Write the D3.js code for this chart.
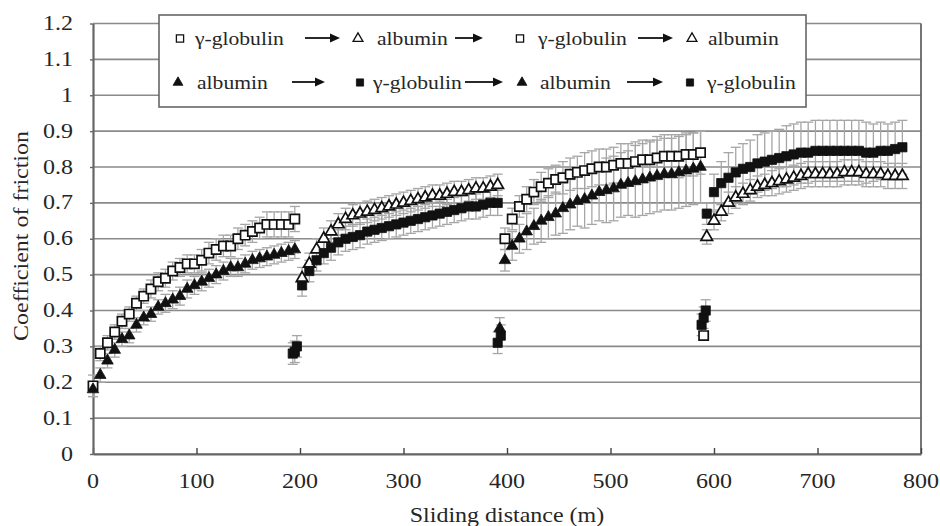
<!DOCTYPE html>
<html><head><meta charset="utf-8">
<script src="https://cdn.jsdelivr.net/npm/d3@7"></script>
<style>
html,body{margin:0;padding:0;background:#fff;}
svg{display:block;font-family:"Liberation Serif","Times New Roman",serif;}
</style></head>
<body>
<svg id="chart" width="940" height="526"></svg>
<script>
// ---------- DATA ----------
const xTicks = [0,100,200,300,400,500,600,700,800];
const yTicks = [0,0.1,0.2,0.3,0.4,0.5,0.6,0.7,0.8,0.9,1.0,1.1,1.2];
const xTitle = "Sliding distance (m)";
const yTitle = "Coefficient of friction";

// segment 1 (γ-globulin open squares / albumin filled triangles)
const seg1X = [0,7,14,21,28,35,42,49,56,63,70,77,84,91,98,105,112,119,126,133,140,147,154,161,168,175,182,189,195];
const openSeg1 = [0.19,0.28,0.31,0.34,0.37,0.39,0.42,0.44,0.46,0.48,0.49,0.51,0.52,0.53,0.53,0.54,0.56,0.57,0.58,0.58,0.60,0.61,0.62,0.63,0.64,0.64,0.64,0.64,0.655];
const openErr1 = [0.03,0.02,0.02,0.02,0.02,0.02,0.02,0.02,0.025,0.025,0.025,0.025,0.025,0.025,0.025,0.03,0.03,0.03,0.03,0.03,0.03,0.03,0.03,0.03,0.035,0.035,0.035,0.035,0.035];
const fillSeg1 = [0.18,0.22,0.26,0.29,0.32,0.33,0.36,0.38,0.39,0.41,0.42,0.43,0.44,0.46,0.47,0.48,0.49,0.50,0.51,0.52,0.52,0.53,0.54,0.545,0.55,0.555,0.56,0.565,0.57];
const fillErr1 = [0.02,0.02,0.02,0.02,0.02,0.02,0.02,0.02,0.02,0.02,0.025,0.025,0.025,0.025,0.025,0.025,0.025,0.025,0.025,0.025,0.025,0.025,0.025,0.025,0.025,0.025,0.025,0.025,0.025];

// segment 2 (albumin open triangles / γ-globulin filled squares)
const seg2X = [202,209,216,223,230,237,244,251,258,265,272,279,286,293,300,307,314,321,328,335,342,349,356,363,370,377,384,391];
const openSeg2 = [0.49,0.53,0.57,0.60,0.62,0.64,0.655,0.665,0.67,0.675,0.68,0.685,0.69,0.695,0.70,0.705,0.71,0.715,0.72,0.72,0.725,0.73,0.73,0.735,0.74,0.74,0.745,0.75];
const openErr2 = [0.03,0.03,0.03,0.03,0.03,0.03,0.03,0.03,0.03,0.03,0.03,0.03,0.03,0.03,0.03,0.03,0.03,0.03,0.03,0.03,0.03,0.03,0.03,0.03,0.03,0.03,0.03,0.03];
const fillSeg2 = [0.47,0.51,0.54,0.56,0.575,0.59,0.60,0.605,0.61,0.62,0.625,0.63,0.635,0.64,0.645,0.65,0.655,0.66,0.665,0.67,0.675,0.68,0.685,0.69,0.69,0.695,0.70,0.70];
const fillErr2 = [0.03,0.03,0.03,0.03,0.035,0.035,0.035,0.035,0.035,0.035,0.035,0.035,0.035,0.035,0.035,0.035,0.035,0.035,0.035,0.035,0.035,0.035,0.035,0.035,0.035,0.035,0.035,0.035];

// segment 3 (γ-globulin open squares / albumin filled triangles)
const seg3X = [398,405,412,419,426,433,440,447,454,461,468,475,482,489,496,503,510,517,524,531,538,545,552,559,566,573,580,587];
const openSeg3 = [0.60,0.655,0.69,0.71,0.73,0.745,0.755,0.765,0.77,0.78,0.785,0.79,0.795,0.80,0.80,0.805,0.81,0.81,0.815,0.82,0.82,0.825,0.83,0.83,0.83,0.835,0.835,0.84];
const openErr3 = [0.03,0.03,0.03,0.035,0.035,0.04,0.04,0.04,0.045,0.045,0.045,0.05,0.05,0.05,0.05,0.05,0.055,0.055,0.055,0.055,0.055,0.06,0.06,0.06,0.06,0.06,0.06,0.06];
const fillSeg3 = [0.54,0.58,0.60,0.62,0.635,0.65,0.66,0.67,0.685,0.695,0.705,0.71,0.72,0.73,0.735,0.74,0.75,0.755,0.76,0.765,0.77,0.775,0.78,0.78,0.785,0.79,0.795,0.80];
const fillErr3 = [0.03,0.04,0.04,0.05,0.05,0.06,0.06,0.06,0.07,0.07,0.07,0.08,0.08,0.08,0.09,0.09,0.09,0.09,0.10,0.10,0.10,0.10,0.10,0.10,0.10,0.10,0.10,0.10];

// segment 4 (albumin open triangles / γ-globulin filled squares)
const seg4X = [593,600,607,614,621,628,635,642,649,656,663,670,677,684,691,698,705,712,719,726,733,740,747,754,761,768,775,782];
const openSeg4 = [0.605,0.65,0.675,0.70,0.715,0.725,0.735,0.745,0.75,0.755,0.76,0.765,0.77,0.775,0.78,0.78,0.78,0.78,0.78,0.785,0.785,0.785,0.78,0.78,0.78,0.775,0.775,0.775];
const openErr4 = [0.02,0.025,0.025,0.03,0.03,0.03,0.03,0.03,0.03,0.035,0.035,0.035,0.035,0.035,0.035,0.035,0.035,0.035,0.035,0.035,0.035,0.035,0.035,0.035,0.035,0.035,0.035,0.035];
const fillSeg4 = [0.67,0.73,0.755,0.77,0.785,0.795,0.80,0.81,0.815,0.82,0.825,0.83,0.835,0.84,0.84,0.845,0.845,0.845,0.845,0.845,0.845,0.845,0.84,0.84,0.845,0.845,0.85,0.855];
const fillErr4 = [0.03,0.05,0.06,0.07,0.07,0.07,0.075,0.08,0.08,0.08,0.08,0.085,0.085,0.085,0.085,0.085,0.085,0.085,0.085,0.085,0.085,0.085,0.085,0.08,0.08,0.075,0.075,0.075];

// low first readings right after each exchange
const lowSqX = [193,195,197,391,394,588,590,592];
const lowSqY = [0.28,0.285,0.30,0.31,0.33,0.36,0.38,0.40];
const lowSqErr = [0.03,0.03,0.03,0.03,0.03,0.03,0.03,0.03];
const lowTriX = [393];
const lowTriY = [0.35];
const lowTriErr = [0.03];
const lowOpenX = [590];
const lowOpenY = [0.33];
const lowOpenErr = [0.01];

// legend
const legendRow1 = [
  {shape:"square", filled:false, label:"γ-globulin"},
  {shape:"triangle", filled:false, label:"albumin"},
  {shape:"square", filled:false, label:"γ-globulin"},
  {shape:"triangle", filled:false, label:"albumin"}
];
const legendRow2 = [
  {shape:"triangle", filled:true, label:"albumin"},
  {shape:"square", filled:true, label:"γ-globulin"},
  {shape:"triangle", filled:true, label:"albumin"},
  {shape:"square", filled:true, label:"γ-globulin"}
];

// ---------- LAYOUT ----------
const L = 93, R = 921, T = 23.5, B = 454;
const svg = d3.select("#chart");
const x = d3.scaleLinear().domain([0,800]).range([L,R]);
const y = d3.scaleLinear().domain([0,1.2]).range([B,T]);
const textColor = "#262626";
const gridColor = "#8a8a8a";
const axisColor = "#666";
const errColor = "#a6a6a6";
const SX = 1.2; // horizontal stretch of the serif type
const FONT = "'Liberation Serif','Times New Roman',serif";

function stext(sel, px, py, str, size, anchor, rot) {
  const g = sel.append("g").attr("transform",
    `translate(${px},${py})` + (rot ? ` rotate(${rot})` : "") + ` scale(${SX},1)`);
  g.append("text").attr("text-anchor", anchor).attr("font-size", size)
    .attr("font-family", FONT)
    .attr("fill", textColor).text(str);
  return g;
}

// gridlines
svg.append("g").selectAll("line").data(yTicks).join("line")
  .attr("x1", L).attr("x2", R)
  .attr("y1", d => y(d)).attr("y2", d => y(d))
  .attr("stroke", gridColor).attr("stroke-width", 1.6);
// right border
svg.append("line").attr("x1", R).attr("x2", R).attr("y1", y(1.2)).attr("y2", B)
  .attr("stroke", axisColor).attr("stroke-width", 1.8);

// x axis
const xAxis = svg.append("g").attr("transform", `translate(0,${B})`)
  .call(d3.axisBottom(x).tickValues(xTicks).tickSizeInner(-6).tickSizeOuter(0).tickFormat(d3.format("d")));
xAxis.select(".domain").attr("stroke", axisColor).attr("stroke-width", 2.2);
xAxis.selectAll(".tick line").attr("stroke", "#444").attr("stroke-width", 1.4);
xAxis.selectAll(".tick text").remove();
xTicks.forEach(v => stext(svg, x(v), 488, String(v), 20, "middle"));

// y axis
const yAxis = svg.append("g").attr("transform", `translate(${L},0)`)
  .call(d3.axisLeft(y).tickValues(yTicks).tickSizeInner(3).tickSizeOuter(0));
yAxis.select(".domain").attr("stroke", axisColor).attr("stroke-width", 2.2);
yAxis.selectAll(".tick line").attr("stroke", axisColor).attr("stroke-width", 1.4);
yAxis.selectAll(".tick text").remove();
const yFmt = d => String(+d.toFixed(1));
yTicks.forEach(v => stext(svg, 73, y(v) + 6.5, yFmt(v), 20, "end"));

// axis titles
stext(svg, (L + R) / 2, 522, xTitle, 20, "middle");
stext(svg, 28, 236, yTitle, 20, "middle", -90);

// ---------- SERIES ----------
const series = [
  {x: seg1X, y: openSeg1, e: openErr1, shape: "square", filled: false},
  {x: seg2X, y: openSeg2, e: openErr2, shape: "triangle", filled: false},
  {x: seg3X, y: openSeg3, e: openErr3, shape: "square", filled: false},
  {x: seg4X, y: openSeg4, e: openErr4, shape: "triangle", filled: false},
  {x: lowOpenX, y: lowOpenY, e: lowOpenErr, shape: "square", filled: false},
  {x: seg1X, y: fillSeg1, e: fillErr1, shape: "triangle", filled: true},
  {x: seg2X, y: fillSeg2, e: fillErr2, shape: "square", filled: true},
  {x: seg3X, y: fillSeg3, e: fillErr3, shape: "triangle", filled: true},
  {x: seg4X, y: fillSeg4, e: fillErr4, shape: "square", filled: true},
  {x: lowSqX, y: lowSqY, e: lowSqErr, shape: "square", filled: true},
  {x: lowTriX, y: lowTriY, e: lowTriErr, shape: "triangle", filled: true}
];
const pts = s => s.x.map((xv, i) => ({x: xv, y: s.y[i], e: s.e[i]}));

const symSquare = d3.symbol().type(d3.symbolSquare).size(85);
const symTri = d3.symbol().type(d3.symbolTriangle).size(58);

// error bars first
const eg = svg.append("g").attr("stroke", errColor).attr("stroke-width", 1.3).attr("fill", "none");
series.forEach(s => {
  pts(s).forEach(p => {
    const cx = x(p.x), y1 = y(p.y - p.e), y2 = y(p.y + p.e);
    eg.append("line").attr("x1", cx).attr("x2", cx).attr("y1", y1).attr("y2", y2);
    eg.append("line").attr("x1", cx - 5).attr("x2", cx + 5).attr("y1", y1).attr("y2", y1);
    eg.append("line").attr("x1", cx - 5).attr("x2", cx + 5).attr("y1", y2).attr("y2", y2);
  });
});

// markers
function drawMarker(sel, cx, cy, shape, filled) {
  sel.append("path")
    .attr("d", shape === "square" ? symSquare() : symTri())
    .attr("transform", `translate(${cx},${cy})`)
    .attr("fill", filled ? "#111" : "#fff")
    .attr("stroke", "#111")
    .attr("stroke-width", filled ? 0.8 : 1.7);
}
const mg = svg.append("g");
series.forEach(s => {
  pts(s).forEach(p => drawMarker(mg, x(p.x), y(p.y), s.shape, s.filled));
});

// ---------- LEGEND ----------
const lg = svg.append("g");
lg.append("rect").attr("x", 159).attr("y", 15).attr("width", 647).attr("height", 92)
  .attr("fill", "#fff").attr("stroke", axisColor).attr("stroke-width", 1.6);

const legendSymSq = d3.symbol().type(d3.symbolSquare).size(52);
const legendSymTri = d3.symbol().type(d3.symbolTriangle).size(42);
function legendMarker(cx, cy, shape, filled) {
  lg.append("path")
    .attr("d", shape === "square" ? legendSymSq() : legendSymTri())
    .attr("transform", `translate(${cx},${cy})`)
    .attr("fill", filled ? "#111" : "#fff")
    .attr("stroke", "#111").attr("stroke-width", filled ? 0.8 : 1.3);
}
function arrow(x1, x2, cy) {
  lg.append("line").attr("x1", x1).attr("x2", x2 - 8).attr("y1", cy).attr("y2", cy)
    .attr("stroke", "#111").attr("stroke-width", 1.8);
  lg.append("path").attr("d", `M${x2},${cy} L${x2 - 10},${cy - 4.5} L${x2 - 10},${cy + 4.5} Z`)
    .attr("fill", "#111");
}
const row1Layout = {y: 38.5, marker: [180, 358, 520, 692], text: [195, 377, 538, 708], arrows: [[305, 340], [455, 483], [638, 673]]};
const row2Layout = {y: 82.5, marker: [178, 360, 522, 690], text: [197, 373, 540, 707], arrows: [[292, 325], [465, 503], [627, 663]]};
[[legendRow1, row1Layout], [legendRow2, row2Layout]].forEach(([items, lay]) => {
  items.forEach((it, i) => {
    legendMarker(lay.marker[i], lay.y, it.shape, it.filled);
    stext(lg, lay.text[i], lay.y + 6.5, it.label, 18, "start");
  });
  lay.arrows.forEach(a => arrow(a[0], a[1], lay.y - 0.5));
});
</script>
</body></html>
